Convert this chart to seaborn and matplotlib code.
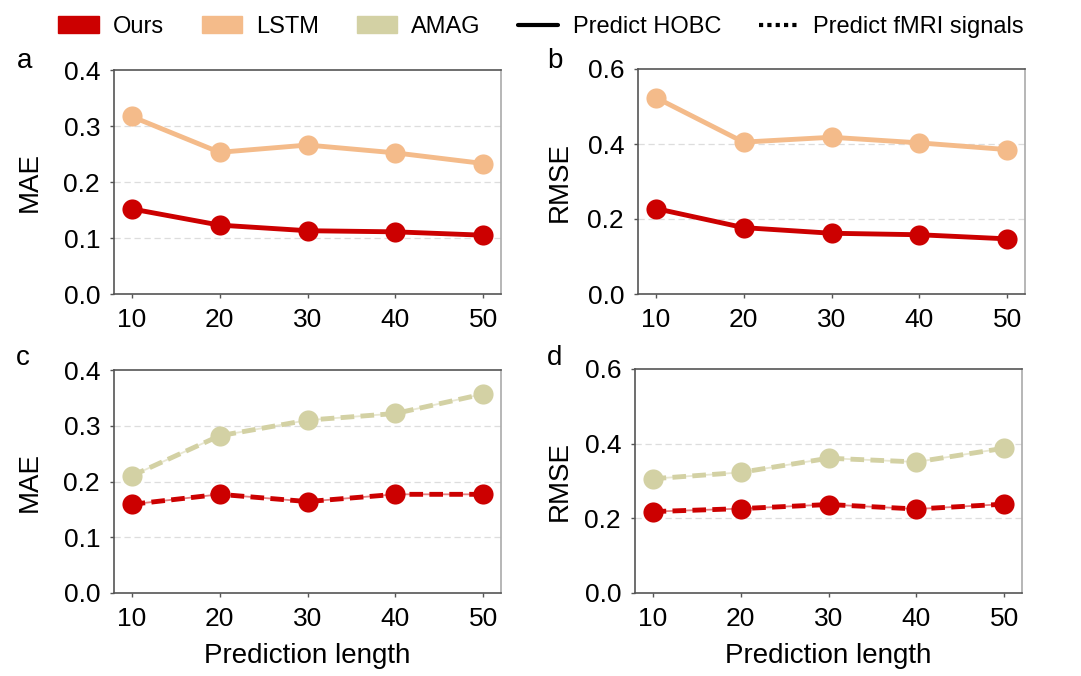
import pandas as pd
import seaborn as sns
import matplotlib.pyplot as plt
from matplotlib.patches import Patch
from matplotlib.lines import Line2D

# --- data ---
lengths = [10, 20, 30, 40, 50]

# HOBC prediction (solid)
mae_ours_hobc = [0.152, 0.123, 0.113, 0.111, 0.105]
mae_lstm_hobc = [0.317, 0.253, 0.266, 0.252, 0.233]
rmse_ours_hobc = [0.228, 0.177, 0.162, 0.158, 0.147]
rmse_lstm_hobc = [0.524, 0.405, 0.418, 0.403, 0.385]

# fMRI signal prediction (dashed)
mae_ours_fmri = [0.159, 0.177, 0.164, 0.177, 0.177]
mae_amag_fmri = [0.210, 0.282, 0.310, 0.322, 0.357]
rmse_ours_fmri = [0.218, 0.226, 0.237, 0.225, 0.238]
rmse_amag_fmri = [0.306, 0.323, 0.361, 0.351, 0.388]

c_ours = '#CC0000'
c_lstm = '#F4BB8A'
c_amag = '#D3D1A4'

sns.set_style('white')
plt.rcParams['font.family'] = ['Liberation Sans', 'DejaVu Sans']
plt.rcParams['text.color'] = 'black'
plt.rcParams['axes.labelcolor'] = 'black'
plt.rcParams['xtick.color'] = 'black'
plt.rcParams['ytick.color'] = 'black'

fig = plt.figure(figsize=(10.81, 6.76), dpi=100)
W, H = 1081, 676
def add_ax(l, t, r, b):
    return fig.add_axes([l / W, 1 - b / H, (r - l) / W, (b - t) / H])

ax_a = add_ax(114, 70, 501, 294)
ax_b = add_ax(638, 69, 1025, 294)
ax_c = add_ax(114, 370, 501, 593)
ax_d = add_ax(635, 369, 1022, 593)

# (axes, letter, letter px position, ylabel, ylabel x in axes coords, ymax, series, dashed)
panels = [
    (ax_a, 'a', (17, 68), 'MAE', -0.183, 0.4, [(mae_lstm_hobc, c_lstm), (mae_ours_hobc, c_ours)], False),
    (ax_b, 'b', (547, 68), 'RMSE', -0.168, 0.6, [(rmse_lstm_hobc, c_lstm), (rmse_ours_hobc, c_ours)], False),
    (ax_c, 'c', (16, 365), 'MAE', -0.183, 0.4, [(mae_amag_fmri, c_amag), (mae_ours_fmri, c_ours)], True),
    (ax_d, 'd', (547, 365), 'RMSE', -0.160, 0.6, [(rmse_amag_fmri, c_amag), (rmse_ours_fmri, c_ours)], True),
]

for ax, letter, lpos, ylab, ylx, ymax, series, dashed in panels:
    step = 0.1 if ymax == 0.4 else 0.2
    ticks = [round(i * step, 1) for i in range(int(round(ymax / step)) + 1)]
    for t in ticks[1:-1]:
        ax.axhline(t, color='#DDDDDD', lw=0.9, ls=(0, (5, 3)), zorder=0)
    for vals, col in series:
        df = pd.DataFrame({'length': lengths, 'value': vals})
        if dashed:
            sns.lineplot(data=df, x='length', y='value', ax=ax, color=col,
                         lw=1.3, alpha=0.5, zorder=2)
            sns.lineplot(data=df, x='length', y='value', ax=ax, color=col,
                         lw=3.5, marker='o', markersize=14.5, markeredgewidth=0,
                         zorder=3)
            ax.lines[-1].set_linestyle((0, (2.8, 1.3)))
        else:
            sns.lineplot(data=df, x='length', y='value', ax=ax, color=col,
                         lw=3.5, marker='o', markersize=14.5, markeredgewidth=0,
                         zorder=3)
    ax.set_xlim(8, 52)
    ax.set_ylim(0, ymax)
    ax.set_xticks(lengths)
    ax.set_yticks(ticks)
    ax.set_yticklabels([f'{t:.1f}' for t in ticks])
    ax.tick_params(axis='both', labelsize=19, length=3, width=1, color='#555555',
                   bottom=True, left=True)
    ax.tick_params(axis='y', pad=7)
    ax.tick_params(axis='x', pad=7)
    ax.set_ylabel(ylab, fontsize=20)
    ax.yaxis.set_label_coords(ylx, 0.5)
    ax.set_xlabel('Prediction length' if letter in 'cd' else '', fontsize=20, labelpad=9)
    for side in ['left', 'bottom', 'top']:
        ax.spines[side].set_color('#555555')
        ax.spines[side].set_linewidth(1.2)
    ax.spines['right'].set_color('#AAAAAA')
    ax.spines['right'].set_linewidth(1.2)
    fig.text(lpos[0] / W, 1 - lpos[1] / H, letter, fontsize=20,
             ha='left', va='baseline')

handles = [
    Patch(facecolor=c_ours, edgecolor=c_ours, label='Ours'),
    Patch(facecolor=c_lstm, edgecolor=c_lstm, label='LSTM'),
    Patch(facecolor=c_amag, edgecolor=c_amag, label='AMAG'),
    Line2D([0], [0], color='black', lw=3, label='Predict HOBC'),
    Line2D([0], [0], color='black', lw=3, ls=(0, (1, 1)), label='Predict fMRI signals'),
]
fig.legend(handles=handles, loc='center', bbox_to_anchor=(541 / W, 1 - 27 / H), ncol=5,
           frameon=False, fontsize=17, handlelength=1.7, handleheight=0.7,
           columnspacing=1.6, handletextpad=0.6)

fig.savefig('out.png', dpi=100)
